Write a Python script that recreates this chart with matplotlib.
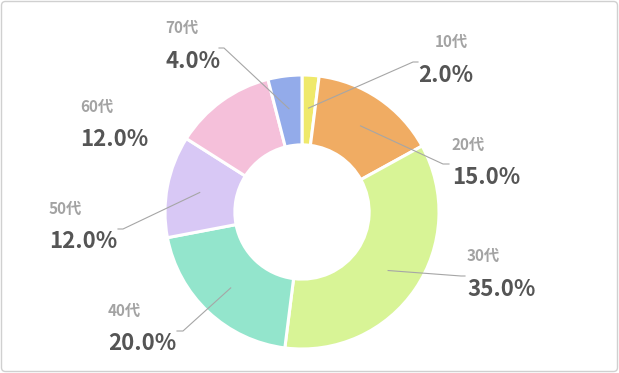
import matplotlib
matplotlib.use("Agg")
import matplotlib.pyplot as plt
from matplotlib.patches import FancyBboxPatch
import numpy as np

plt.rcParams['font.family'] = ['Noto Sans CJK JP', 'DejaVu Sans']

categories = ["10代", "20代", "30代", "40代", "50代", "60代", "70代"]
values = [2.0, 15.0, 35.0, 20.0, 12.0, 12.0, 4.0]
colors = ["#efe96b", "#f0ac63", "#d8f496", "#93e5cc", "#d8c8f5", "#f5c0da", "#93abea"]

W, H = 619, 373
fig = plt.figure(figsize=(W / 100, H / 100), dpi=100)
ax = fig.add_axes([0, 0, 1, 1])

cx, cy, R = 302, 373 - 212, 137
wedges, _ = ax.pie(values, colors=colors, startangle=90, counterclock=False,
                   center=(cx, cy), radius=R,
                   wedgeprops=dict(width=R * 0.51, edgecolor="white", linewidth=2.2))
ax.set_xlim(0, W)
ax.set_ylim(0, H)
ax.set_aspect("equal")
ax.axis("off")

# label layout in pixel coords (top-origin): name x, name y, value x, value y
name_pos = [(435, 42), (452, 145), (467, 256), (108, 311), (49, 209), (80, 107), (165, 28)]
value_pos = [(418, 75), (452, 178), (467, 289), (108, 344), (49, 242), (80, 140), (165, 61)]
leader = [((413, 62), (418, 62)), ((443, 164), (449, 164)), ((461, 276), (465, 276)),
          ((183, 331), (177, 331)), ((123, 229), (118, 229)), None, ((224, 48), (219, 48))]
start_r = 0.76

for w, cat, v, npos, vpos, le in zip(wedges, categories, values, name_pos, value_pos, leader):
    ang = np.deg2rad((w.theta1 + w.theta2) / 2)
    sx = cx + R * start_r * np.cos(ang)
    sy = cy + R * start_r * np.sin(ang)
    if le is not None:
        (ex, ey), (hx, hy) = le
        ax.plot([sx, ex, hx], [sy, H - ey, H - hy], color="#a6a6a6", lw=0.8)
    ax.text(npos[0], H - npos[1], cat, fontsize=11, fontweight="bold", color="#a3a3a3",
            ha="left", va="center")
    ax.text(vpos[0], H - vpos[1], f"{v:.1f}%", fontsize=16, fontweight="bold", color="#555555",
            ha="left", va="center")

border = FancyBboxPatch((1.5, 1.5), W - 3, H - 3, boxstyle="round,pad=0,rounding_size=4",
                        transform=None, fill=False, edgecolor="#d0d0d0", lw=1)
fig.patches.append(border)

fig.savefig("out.png", dpi=100)
